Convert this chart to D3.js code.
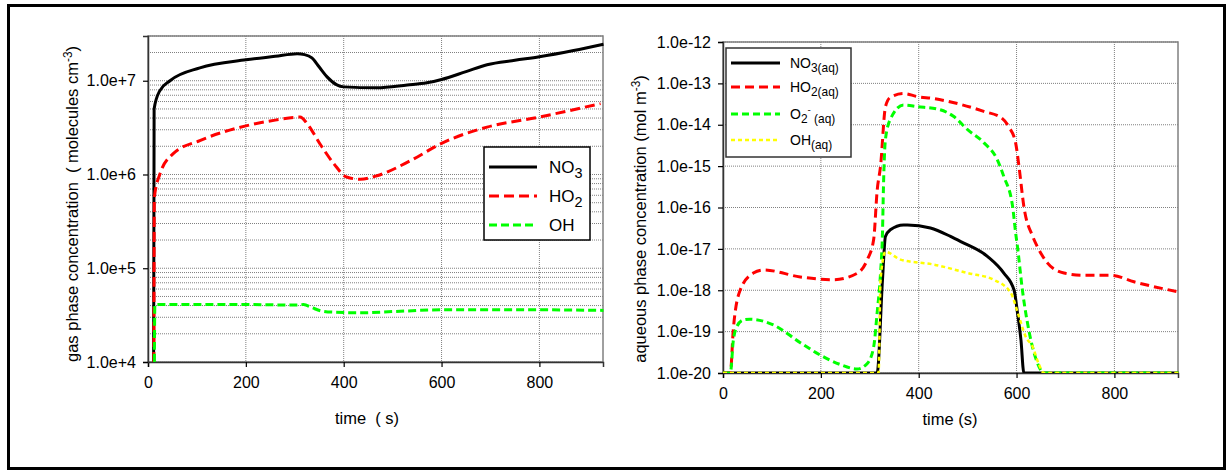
<!DOCTYPE html>
<html>
<head>
<meta charset="utf-8">
<script src="https://cdn.jsdelivr.net/npm/d3@7"></script>
<style>
  html, body { margin: 0; padding: 0; background: #fff; }
  svg { display: block; font-family: "Liberation Sans", Arial, sans-serif; }
</style>
</head>
<body>
<svg id="chart" width="1227" height="471"></svg>
<script>
// time axis ticks shared by both panels
const TIME_TICKS = [0, 200, 400, 600, 800];

// gas phase, [time s, molecules cm-3]
const NO3_GAS = [[11.5, 1e4], [12.5, 5e6], [24, 7.8e6], [45, 1e7], [106, 1.37e7], [200, 1.67e7], [260, 1.82e7],
  [305, 1.94e7], [320, 1.9e7], [335, 1.75e7], [350, 1.4e7], [366, 1.1e7], [385, 9.1e6], [400, 8.6e6], [468, 8.4e6],
  [530, 9e6], [570, 9.5e6], [600, 1.03e7], [650, 1.25e7], [693, 1.48e7], [750, 1.65e7], [800, 1.8e7], [870, 2.1e7],
  [931, 2.45e7]];
const HO2_GAS = [[12, 1e4], [13, 5.7e5], [24, 1e6], [51, 1.66e6], [106, 2.3e6], [200, 3.3e6], [260, 3.8e6],
  [311, 4.1e6], [325, 3.5e6], [352, 2.1e6], [380, 1.3e6], [406, 9.4e5], [434, 8.9e5], [468, 9.7e5], [536, 1.4e6],
  [600, 2.15e6], [693, 3.2e6], [800, 4.1e6], [925, 5.7e6]];
const OH_GAS = [[13, 1e4], [14, 4.1e4], [100, 4.1e4], [200, 4.1e4], [300, 4.05e4], [318, 4.1e4], [335, 3.8e4],
  [355, 3.5e4], [380, 3.4e4], [434, 3.35e4], [500, 3.45e4], [600, 3.6e4], [700, 3.6e4], [800, 3.6e4], [931, 3.55e4]];

// aqueous phase, [time s, mol m-3]
const NO3_AQ = [[0, 1e-20], [315, 1e-20], [326, 1.8e-18], [332, 2e-17], [342, 2.9e-17], [369, 3.8e-17],
  [377, 3.8e-17], [424, 3.2e-17], [465, 2e-17], [486, 1.5e-17], [541, 6.5e-18], [574, 2.6e-18], [595, 1e-18],
  [602, 2.8e-19], [609, 6.3e-20], [615, 1e-20], [931, 1e-20]];
const HO2_AQ = [[0, 1e-20], [15, 1e-20], [21, 1.1e-19], [35, 1e-18], [62, 2.6e-18], [83, 3.1e-18], [158, 2.1e-18],
  [226, 1.8e-18], [275, 2.6e-18], [295, 5.5e-18], [308, 1.7e-17], [315, 2.5e-16], [322, 1e-15], [332, 2.7e-14],
  [342, 4.6e-14], [369, 5.7e-14], [397, 4.8e-14], [430, 4.3e-14], [486, 3.1e-14], [533, 2.1e-14], [568, 1.5e-14],
  [584, 9e-15], [598, 3.7e-15], [605, 9.8e-16], [615, 1.05e-16], [633, 2e-17], [643, 1.1e-17], [663, 4.6e-18],
  [697, 2.6e-18], [738, 2.3e-18], [793, 2.3e-18], [840, 1.6e-18], [931, 9.1e-19]];
const O2_AQ = [[0, 1e-20], [15, 1e-20], [21, 6e-20], [28, 1.3e-19], [41, 1.9e-19], [55, 2e-19], [103, 1.45e-19],
  [158, 5.4e-20], [199, 2.7e-20], [240, 1.6e-20], [274, 1.25e-20], [295, 1.7e-20], [308, 4.3e-20], [315, 2.8e-19],
  [322, 2.6e-18], [326, 2.5e-17], [328, 3.2e-16], [332, 4.4e-15], [342, 1.35e-14], [369, 3e-14], [397, 2.75e-14],
  [444, 2.3e-14], [471, 1.6e-14], [500, 7.6e-15], [533, 3.7e-15], [561, 1.4e-15], [574, 5.6e-16], [592, 1.05e-16],
  [598, 2.5e-17], [602, 1.1e-17], [612, 1e-18], [625, 1.1e-19], [643, 1.7e-20], [656, 1e-20], [931, 1e-20]];
const OH_AQ = [[0, 1e-20], [318, 1e-20], [322, 1.8e-18], [332, 8.5e-18], [363, 5.5e-18], [430, 4.2e-18],
  [500, 2.6e-18], [553, 1.8e-18], [588, 8.7e-19], [605, 2.3e-19], [619, 7.4e-20], [633, 4.3e-20], [645, 1.7e-20],
  [656, 1e-20], [931, 1e-20]];

const GAS_SERIES = [
  { data: NO3_GAS, color: "#000", dash: null, width: 3, label: [["NO"], ["3", "sub"]] },
  { data: HO2_GAS, color: "#ff0000", dash: "10,5", width: 3, label: [["HO"], ["2", "sub"]] },
  { data: OH_GAS, color: "#00ff00", dash: "8,4", width: 3, label: [["OH"]] },
];
const AQ_SERIES = [
  { data: NO3_AQ, color: "#000", dash: null, width: 3, label: [["NO"], ["3(aq)", "sub"]] },
  { data: HO2_AQ, color: "#ff0000", dash: "9,5", width: 3, label: [["HO"], ["2(aq)", "sub"]] },
  { data: O2_AQ, color: "#00ff00", dash: "7,4", width: 3, label: [["O"], ["2", "sub"], ["-", "sup"], [" (aq)", "sub2"]] },
  { data: OH_AQ, color: "#ffff00", dash: "4,3", width: 2.5, label: [["OH"], ["(aq)", "sub"]] },
];

const svg = d3.select("#chart");
svg.append("rect").attr("x", 8.5).attr("y", 5.5).attr("width", 1216).attr("height", 463)
  .attr("fill", "none").attr("stroke", "#000").attr("stroke-width", 3);

function expLabel(d) {
  const e = Math.round(Math.log10(d));
  return `1.0e${e >= 0 ? "+" : "-"}${Math.abs(e)}`;
}

function addLabel(text, parts, size) {
  parts.forEach(([t, kind]) => {
    const ts = text.append("tspan").text(t);
    if (kind === "sub") ts.attr("dy", size * 0.3).attr("font-size", size * 0.85);
    if (kind === "sup") ts.attr("dy", -size * 0.75).attr("font-size", size * 0.7);
    if (kind === "sub2") ts.attr("dy", size * 0.75).attr("font-size", size * 0.85);
  });
}

function drawPanel(opt) {
  const x = d3.scaleLinear().domain([0, 930]).range([opt.x0, opt.x1]);
  const y = d3.scaleLog().domain(opt.yDomain).range([opt.y1, opt.y0]);
  const g = svg.append("g");
  const clipId = "clip" + opt.x0;
  svg.append("clipPath").attr("id", clipId).append("rect")
    .attr("x", opt.x0).attr("y", opt.y0 - 2).attr("width", opt.x1 - opt.x0 + 2).attr("height", opt.y1 - opt.y0 + 2);

  // grid
  g.selectAll("line.hgrid").data(opt.gridY).join("line")
    .attr("x1", opt.x0).attr("x2", opt.x1).attr("y1", (d) => y(d)).attr("y2", (d) => y(d))
    .attr("stroke", "#808080").attr("stroke-width", 1).attr("stroke-dasharray", "1,1");
  g.selectAll("line.vgrid").data(TIME_TICKS.slice(1)).join("line")
    .attr("x1", (d) => x(d)).attr("x2", (d) => x(d)).attr("y1", opt.y0).attr("y2", opt.y1)
    .attr("stroke", "#808080").attr("stroke-width", 1).attr("stroke-dasharray", "1,1");

  g.append("rect").attr("x", opt.x0).attr("y", opt.y0).attr("width", opt.x1 - opt.x0).attr("height", opt.y1 - opt.y0)
    .attr("fill", "none").attr("stroke", "#808080").attr("stroke-width", 1.5);

  // axes
  const ax = g.append("g").attr("transform", `translate(0,${opt.y1})`)
    .call(d3.axisBottom(x).tickValues(TIME_TICKS).tickSize(5).tickPadding(10).tickFormat(d3.format("d")));
  const ay = g.append("g").attr("transform", `translate(${opt.x0},0)`)
    .call(d3.axisLeft(y).tickValues(opt.ticksY).tickSize(5).tickPadding(7).tickFormat(expLabel));
  [ax, ay].forEach((a) => {
    a.selectAll("text").attr("font-size", 16).attr("fill", "#000").attr("font-family", "Liberation Sans, Arial, sans-serif");
    a.select(".domain").attr("stroke", "#333").attr("stroke-width", 1.5);
    a.selectAll(".tick line").attr("stroke", "#000").attr("stroke-width", 1.2);
  });

  // lines
  const line = d3.line().x((d) => x(d[0])).y((d) => y(d[1])).curve(d3.curveMonotoneX);
  const lg = g.append("g").attr("clip-path", `url(#${clipId})`);
  opt.series.forEach((s) => {
    lg.append("path").datum(s.data).attr("d", line).attr("fill", "none")
      .attr("stroke", s.color).attr("stroke-width", s.width)
      .attr("stroke-dasharray", s.dash).attr("stroke-linejoin", "round");
  });

  // titles
  const yt = g.append("text").attr("transform", `translate(${opt.ytX},${opt.ytY}) rotate(-90)`)
    .attr("text-anchor", "middle").attr("font-size", opt.titleSize).attr("fill", "#000").attr("xml:space", "preserve");
  yt.append("tspan").text(opt.yTitle[0]);
  yt.append("tspan").attr("dy", -6).attr("font-size", opt.titleSize * 0.72).text("-3");
  yt.append("tspan").attr("dy", 6).text(")");
  g.append("text").attr("x", opt.xtX).attr("y", opt.xtY).attr("text-anchor", "middle")
    .attr("font-size", opt.titleSize).attr("fill", "#000").attr("xml:space", "preserve").text(opt.xTitle);

  // legend
  const L = opt.legend;
  g.append("rect").attr("x", L.x).attr("y", L.y).attr("width", L.w).attr("height", L.h)
    .attr("fill", "#fff").attr("stroke", L.stroke).attr("stroke-width", 1.5);
  opt.series.forEach((s, i) => {
    const cy = L.y + L.rows[i];
    g.append("line").attr("x1", L.x + 5).attr("x2", L.x + L.sample).attr("y1", cy).attr("y2", cy)
      .attr("stroke", s.color).attr("stroke-width", s.width).attr("stroke-dasharray", s.dash);
    const t = g.append("text").attr("x", L.x + L.textX).attr("y", cy + L.size * 0.36)
      .attr("font-size", L.size).attr("fill", "#000").attr("xml:space", "preserve");
    addLabel(t, s.label, L.size);
  });
}

const gasGrid = [];
for (let e = 4; e <= 7; e++) for (let m = 1; m <= 9; m++) if (m * 10 ** e <= 3e7) gasGrid.push(m * 10 ** e);
const gasTicks = [1e4, 1e5, 1e6, 1e7];
const aqTicks = d3.range(-20, -11).map((e) => 10 ** e);

drawPanel({
  x0: 148, x1: 603, y0: 36, y1: 362, yDomain: [1e4, 3e7], ticksY: gasTicks, gridY: gasGrid,
  series: GAS_SERIES, yTitle: ["gas phase concentration  ( molecules cm"], ytX: 78, ytY: 204, titleSize: 16.5,
  xTitle: "time  ( s)", xtX: 367, xtY: 424,
  legend: { x: 484, y: 147, w: 106, h: 93, rows: [20, 49, 78], sample: 53, textX: 65, size: 17, stroke: "#000" },
});
drawPanel({
  x0: 723, x1: 1178, y0: 42, y1: 373, yDomain: [1e-20, 1e-12], ticksY: aqTicks, gridY: aqTicks,
  series: AQ_SERIES, yTitle: ["aqueous phase concentration (mol m"], ytX: 646, ytY: 219, titleSize: 16.5,
  xTitle: "time (s)", xtX: 950, xtY: 425,
  legend: { x: 726, y: 48, w: 125, h: 109, rows: [15, 39, 66, 92], sample: 54, textX: 64, size: 14, stroke: "#333" },
});
</script>
</body>
</html>
